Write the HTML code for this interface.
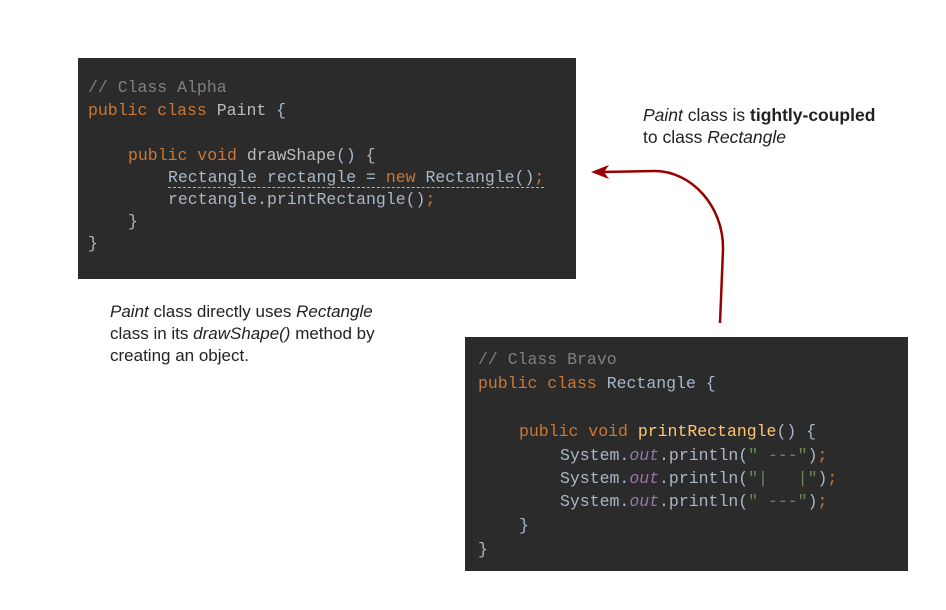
<!DOCTYPE html>
<html><head><meta charset="utf-8"><style>
body{margin:0;background:#fff;width:946px;height:610px;position:relative;overflow:hidden}
.code{position:absolute;background:#2b2b2b;font-family:"Liberation Mono",monospace;font-size:16.5px;color:#a9b7c6;white-space:pre}
.code div{position:absolute;left:0}
.c{color:#808080}.k{color:#cc7832}.m{color:#ffc66d}.o{color:#9876aa;font-style:italic}.s{color:#6a8759}.g{color:#bdbdbd}
.t{position:absolute;font-family:"Liberation Sans",sans-serif;font-size:17px;color:#222;line-height:22px}
</style></head><body>
<div class="code" style="left:78px;top:58px;width:498px;height:221px">
<div style="left:10px;top:20px" class="c">// Class Alpha</div>
<div style="left:10px;top:43px"><span class="k">public class</span> <span class="g">Paint</span> {</div>
<div style="left:50px;top:88px"><span class="k">public void</span> <span class="g">drawShape</span>() {</div>
<div style="left:90px;top:110px;border-bottom:1px dashed #c8c800">Rectangle rectangle = <span class="k">new</span> Rectangle()<span class="k">;</span></div>
<div style="left:90px;top:132px">rectangle.printRectangle()<span class="k">;</span></div>
<div style="left:50px;top:154px">}</div>
<div style="left:10px;top:176px">}</div>
</div>
<div class="code" style="left:465px;top:337px;width:443px;height:234px">
<div style="left:13px;top:13px" class="c">// Class Bravo</div>
<div style="left:13px;top:37px"><span class="k">public class</span> Rectangle {</div>
<div style="left:54px;top:85px"><span class="k">public void</span> <span class="m">printRectangle</span>() {</div>
<div style="left:95px;top:109px">System.<span class="o">out</span>.println(<span class="s">" ---"</span>)<span class="k">;</span></div>
<div style="left:95px;top:132px">System.<span class="o">out</span>.println(<span class="s">"|   |"</span>)<span class="k">;</span></div>
<div style="left:95px;top:155px">System.<span class="o">out</span>.println(<span class="s">" ---"</span>)<span class="k">;</span></div>
<div style="left:54px;top:179px">}</div>
<div style="left:13px;top:203px">}</div>
</div>
<div class="t" style="left:643px;top:104px;font-size:17.5px"><i>Paint</i> class is <b>tightly-coupled</b><br>to class <i>Rectangle</i></div>
<div class="t" style="left:110px;top:301px"><i>Paint</i> class directly uses <i>Rectangle</i><br>class in its <i>drawShape()</i> method by<br>creating an object.</div>
<svg style="position:absolute;left:0;top:0" width="946" height="610">
<path d="M720,323 L723,250 C724,205 690,171 655,171 L600,172" fill="none" stroke="#990000" stroke-width="2.5"/>
<path d="M591,172 L609,165 L604,172 L609,179 Z" fill="#990000"/>
</svg>
</body></html>
